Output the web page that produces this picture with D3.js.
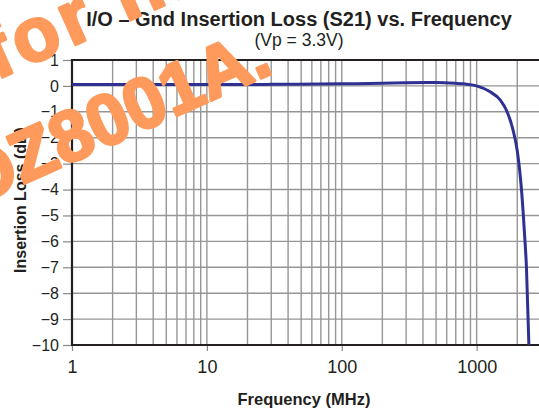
<!DOCTYPE html>
<html>
<head>
<meta charset="utf-8">
<script src="https://cdn.jsdelivr.net/npm/d3@7"></script>
<style>
  html, body { margin: 0; padding: 0; background: #fff; }
  svg { display: block; font-family: "Liberation Sans", Arial, sans-serif; }
</style>
</head>
<body>
<script>
// I/O - Gnd insertion loss

var freqMHz = [1, 10, 30, 100, 200, 300, 500, 700, 800, 1000, 1250, 1500, 1660, 1860, 2000, 2150, 2270, 2340, 2440];
var lossDb = [0.05, 0.05, 0.06, 0.08, 0.1, 0.12, 0.13, 0.1, 0.08, 0, -0.22, -0.55, -0.93, -1.7, -2.5, -4, -5.8, -7, -10];
var xTickLabels = [1, 10, 100, 1000];
var yTickLabels = [1, 0, -1, -2, -3, -4, -5, -6, -7, -8, -9, -10];

var width = 539, height = 412;
var plotL = 72, plotR = 541, plotT = 60, plotB = 345;

var svg = d3.select("body").append("svg").attr("width", width).attr("height", height);

var x = d3.scaleLog().domain([1, 3000]).range([plotL, plotR]);
var y = d3.scaleLinear().domain([-10, 1]).range([plotB, plotT]);

// grid
var grid = svg.append("g").attr("stroke", "#969696").attr("stroke-width", 1.4);
grid.selectAll("line.v")
    .data(x.ticks().filter(function (d) { return d > 1; }))
    .enter().append("line")
    .attr("x1", function (d) { return x(d); }).attr("x2", function (d) { return x(d); })
    .attr("y1", plotT).attr("y2", plotB);
grid.selectAll("line.h")
    .data(yTickLabels.filter(function (d) { return d > -10 && d < 1; }))
    .enter().append("line")
    .attr("x1", plotL).attr("x2", plotR)
    .attr("y1", function (d) { return y(d); }).attr("y2", function (d) { return y(d); });

// axes
var yAxis = svg.append("g")
    .attr("transform", "translate(" + plotL + ",0)")
    .call(d3.axisLeft(y).tickValues(yTickLabels).tickSize(9).tickPadding(4).tickFormat(d3.format("d")));
var xAxis = svg.append("g")
    .attr("transform", "translate(0," + plotB + ")")
    .call(d3.axisBottom(x).tickValues(xTickLabels).tickSize(6).tickPadding(9).tickFormat(d3.format("d")));
[xAxis, yAxis].forEach(function (a) {
    a.select(".domain").remove();
    a.selectAll(".tick line").attr("stroke", "#888").attr("stroke-width", 1.2);
    a.selectAll("text").attr("fill", "#231f20").style("font-family", "Liberation Sans, Arial, sans-serif");
});
yAxis.selectAll("text").style("font-size", "16px");
xAxis.selectAll("text").style("font-size", "18px");

// frame
svg.append("path")
    .attr("d", "M" + plotR + "," + plotT + "H" + plotL + "V" + plotB + "H" + plotR)
    .attr("fill", "none").attr("stroke", "#231f20").attr("stroke-width", 2.2);

// curve
svg.append("clipPath").attr("id", "plot")
    .append("rect").attr("x", plotL).attr("y", plotT).attr("width", plotR - plotL).attr("height", plotB - plotT + 1);
var line = d3.line()
    .x(function (d, i) { return x(freqMHz[i]); })
    .y(function (d) { return y(d); })
    .curve(d3.curveMonotoneX);
svg.append("path")
    .datum(lossDb)
    .attr("clip-path", "url(#plot)")
    .attr("d", line)
    .attr("fill", "none").attr("stroke", "#2e3192").attr("stroke-width", 3);

// titles
svg.append("text").attr("x", 299).attr("y", 26).attr("text-anchor", "middle")
    .attr("fill", "#231f20").style("font-size", "20px").style("font-weight", "bold")
    .text("I/O \u2013 Gnd Insertion Loss (S21) vs. Frequency");
svg.append("text").attr("x", 299).attr("y", 46).attr("text-anchor", "middle")
    .attr("fill", "#231f20").style("font-size", "17.5px")
    .text("(Vp = 3.3V)");
svg.append("text").attr("x", 304).attr("y", 405).attr("text-anchor", "middle")
    .attr("fill", "#231f20").style("font-size", "16.5px").style("font-weight", "bold")
    .text("Frequency (MHz)");
svg.append("text").attr("transform", "translate(26,200) rotate(-90)").attr("text-anchor", "middle")
    .attr("fill", "#231f20").style("font-size", "16px").style("font-weight", "bold")
    .text("Insertion Loss (dB)");

// watermark
var wm = svg.append("g").attr("fill", "#fd9a5c").attr("stroke", "#fd9a5c")
    .attr("stroke-width", 3).attr("stroke-linejoin", "round").style("font-weight", "bold");
wm.append("text").attr("transform", "translate(-4,80) rotate(-24)")
    .style("font-size", "76px").style("letter-spacing", "5px").text("for In");
wm.append("text").attr("transform", "translate(275,72) rotate(-24)").attr("text-anchor", "end")
    .style("font-size", "72px").text("OZ8001A.");
</script>
</body>
</html>
